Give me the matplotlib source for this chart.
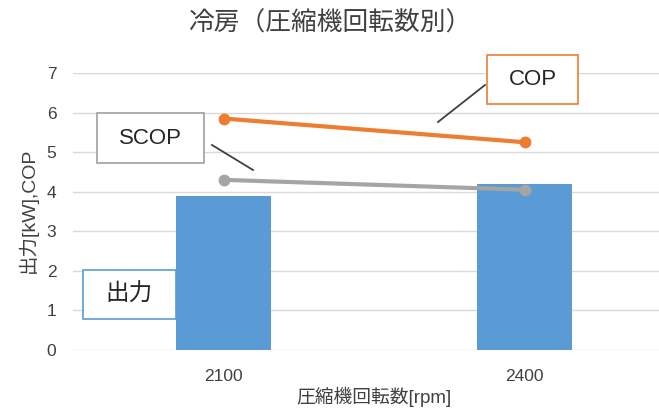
import matplotlib
matplotlib.use("Agg")
import matplotlib.pyplot as plt
from matplotlib.patches import Rectangle
from matplotlib.lines import Line2D

plt.rcParams['font.family'] = ['Liberation Sans', 'Noto Sans CJK JP', 'DejaVu Sans']

# Data
rpm_labels = ["2100", "2400"]
output_kw = [3.9, 4.2]
cop = [5.85, 5.25]
scop = [4.3, 4.05]
y_ticks = [0, 1, 2, 3, 4, 5, 6, 7]

W, H = 659, 409
fig = plt.figure(figsize=(W / 100, H / 100), dpi=100)


def fx(px):
    return px / W


def fy(py):
    return 1 - py / H


# Axes area in pixels: left 73, right 659, top 73, bottom 350
ax = fig.add_axes([fx(73), fy(350), fx(659) - fx(73), fy(73) - fy(350)])

BLUE = "#5B9BD5"
ORANGE = "#ED7D31"
GREY = "#A5A5A5"
TEXT = "#404040"

x = list(range(len(rpm_labels)))
ax.bar(x, output_kw, width=0.316, color=BLUE, zorder=2)
ax.plot(x, cop, color=ORANGE, lw=3.0, marker="o", ms=7.5, zorder=3)
ax.plot(x, scop, color=GREY, lw=3.0, marker="o", ms=7.5, zorder=3)

ax.set_xlim(-0.5, 1.446)
ax.set_ylim(0, 7)
ax.set_yticks(y_ticks)
ax.set_xticks(x)
ax.set_xticklabels(rpm_labels)
ax.grid(axis="y", color="#D9D9D9", lw=1.0, zorder=0)
ax.set_axisbelow(True)
for s in ax.spines.values():
    s.set_visible(False)
ax.tick_params(axis="both", length=0, labelsize=12.5, colors=TEXT)
ax.tick_params(axis="x", pad=14)
ax.tick_params(axis="y", pad=12)

fig.text(fx(28), fy(210), "出力[kW],COP", rotation=90, ha="center", va="center",
         fontsize=14, color=TEXT)

fig.text(fx(330), fy(23), "冷房（圧縮機回転数別）", ha="center", va="center",
         fontsize=18.5, color=TEXT)
fig.text(fx(374), fy(397), "圧縮機回転数[rpm]", ha="center", va="center",
         fontsize=13.5, color=TEXT)


def label_box(x0, y0, x1, y1, text, edge, size):
    fig.add_artist(Rectangle((fx(x0), fy(y1)), fx(x1) - fx(x0), fy(y0) - fy(y1),
                             transform=fig.transFigure, facecolor="white",
                             edgecolor=edge, lw=1.2, zorder=5))
    fig.text(fx((x0 + x1) / 2), fy((y0 + y1) / 2), text, ha="center",
             va="center", fontsize=size, color="#262626", zorder=6)


def connector(xa, ya, xb, yb):
    fig.add_artist(Line2D([fx(xa), fx(xb)], [fy(ya), fy(yb)],
                          transform=fig.transFigure, color="#404040", lw=1.3))


label_box(487, 55, 578, 104, "COP", ORANGE, 16)
connector(438, 122, 485, 85)
label_box(97, 113, 204, 163, "SCOP", "#A0A0A0", 16)
connector(212, 145, 253, 170)
label_box(83, 270, 176, 319, "出力", BLUE, 17)

fig.savefig("out.png", dpi=100)
